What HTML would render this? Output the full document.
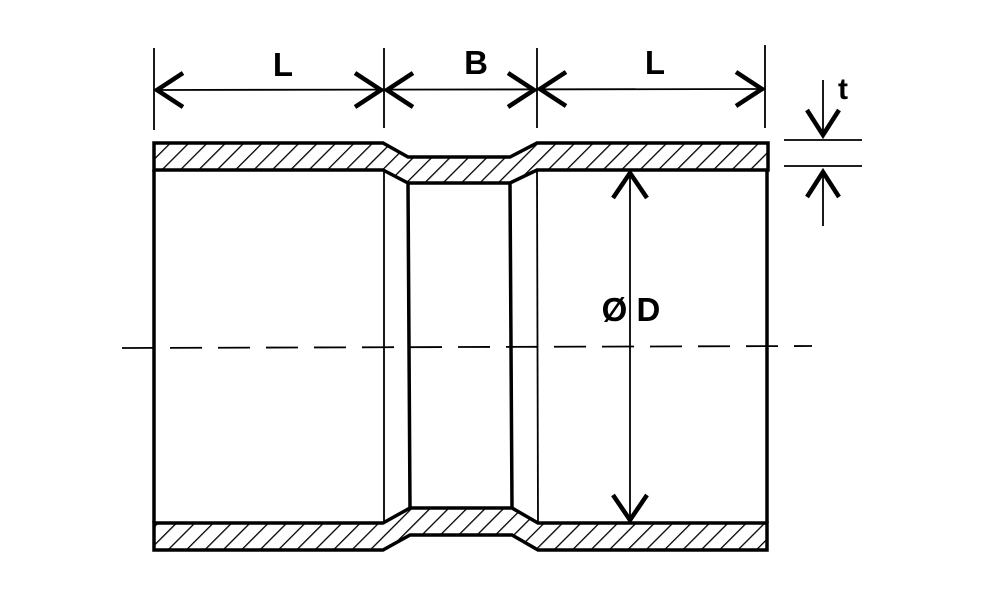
<!DOCTYPE html>
<html><head><meta charset="utf-8"><style>
html,body{margin:0;padding:0;background:#fff;}
svg{display:block}
</style></head><body>
<svg width="981" height="615" viewBox="0 0 981 615" xmlns="http://www.w3.org/2000/svg">
<defs>
<pattern id="h" patternUnits="userSpaceOnUse" width="13" height="13" patternTransform="rotate(45)">
<rect width="13" height="13" fill="#fff"/>
<line x1="0" y1="0" x2="0" y2="13" stroke="#000" stroke-width="2.6"/>
</pattern>
</defs>
<rect width="981" height="615" fill="#fff"/>
<g stroke="#000" stroke-width="3.5" stroke-linejoin="miter" fill="url(#h)">
<polygon points="154,143 383,143 408,157 510,157 537,143 768,143 768,170 537,170 510,183 408,183 383,170 154,170"/>
<polygon points="154,550 383,550 410,535 512,535 538,550 767,550 767,523 538,523 512,508 410,508 383,523 154,523"/>
</g>
<g stroke="#000" stroke-width="3.5" fill="none">
<line x1="154" y1="170" x2="154" y2="523"/>
<line x1="408" y1="183" x2="410" y2="508"/>
<line x1="510" y1="183" x2="512" y2="508"/>
<line x1="767" y1="170" x2="767" y2="523"/>
</g>
<g stroke="#000" stroke-width="1.8" fill="none">
<line x1="384" y1="170" x2="384" y2="523"/>
<line x1="537" y1="170" x2="538" y2="523"/>
<line x1="154" y1="48" x2="154" y2="130"/>
<line x1="384" y1="48" x2="384" y2="128"/>
<line x1="537" y1="48" x2="537" y2="128"/>
<line x1="765" y1="45" x2="765" y2="128"/>
<line x1="154" y1="90" x2="765" y2="89"/>
<line x1="122" y1="348" x2="812" y2="346" stroke-dasharray="32,16"/>
<line x1="630" y1="172" x2="630" y2="521"/>
<line x1="823" y1="80" x2="823" y2="136"/>
<line x1="823" y1="172" x2="823" y2="226"/>
<line x1="784" y1="140" x2="862" y2="140"/>
<line x1="784" y1="166" x2="862" y2="166"/>
</g>
<g stroke="#000" stroke-width="4.5" fill="none" stroke-linecap="butt">
<polyline points="183,73 157,90 183,107"/>
<polyline points="355,73 381,90 355,107"/>
<polyline points="413,73 387,90 413,107"/>
<polyline points="508,73 534,90 508,107"/>
<polyline points="566,72 540,89 566,106"/>
<polyline points="736,72 762,89 736,106"/>
<polyline points="613,198 630,173 647,198"/>
<polyline points="613,495 630,520 647,495"/>
<polyline points="807,110 823,135 839,110"/>
<polyline points="807,197 823,172 839,197"/>
</g>
<g font-family="Liberation Sans, sans-serif" font-weight="bold" fill="#000" text-anchor="middle">
<text x="283" y="76" font-size="33">L</text>
<text x="476" y="74" font-size="33">B</text>
<text x="655" y="74" font-size="33">L</text>
<text x="843" y="99" font-size="30">t</text>
<text x="631" y="321" font-size="33">Ø D</text>
</g>
</svg>
</body></html>
